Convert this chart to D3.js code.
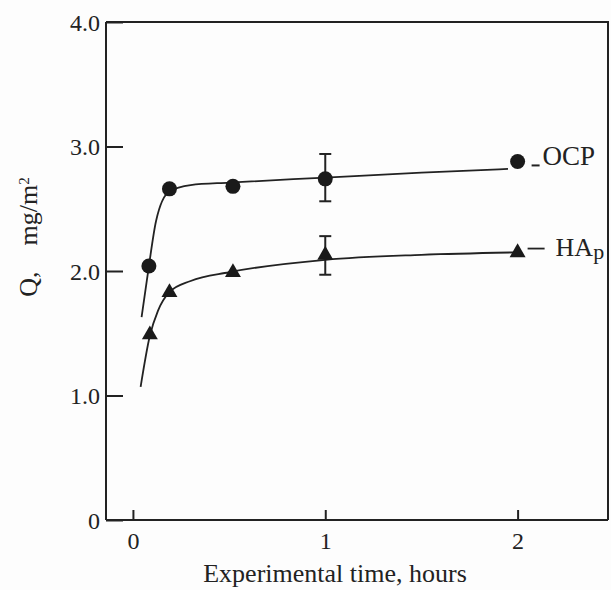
<!DOCTYPE html>
<html lang="en">
<head>
    <meta charset="UTF-8"/>
    <title>Adsorption Q vs time</title>
    <script src="https://d3js.org/d3.v7.min.js" charset="utf-8"></script>
    <style type="text/css">
        body { margin: 0; background: #fdfdfd; }
        text { font-family: "Liberation Serif", "DejaVu Serif", serif; fill: #222; }
        .axis path, .axis line { stroke: #222; stroke-width: 2px; }
        .fit { fill: none; stroke: #222; stroke-width: 1.8px; }
    </style>
</head>
<body>
<div id="chart"></div>
<script type="text/javascript">

    // measured points (hours, mg/m2)
    var ocpTime = [0.083, 0.19, 0.52, 1.0, 2.0];
    var ocpQ = [2.04, 2.66, 2.68, 2.74, 2.88];
    var hapTime = [0.088, 0.19, 0.52, 1.0, 2.0];
    var hapQ = [1.48, 1.82, 1.98, 2.12, 2.14];

    // error bars at 1 hour
    var errTime = [1.0, 1.0];
    var errLow = [2.56, 1.97];
    var errHigh = [2.94, 2.28];

    // hand drawn fitted curves
    var ocpCurveT = [0.045, 0.083, 0.12, 0.19, 0.3, 0.5, 1.0, 1.5, 1.95];
    var ocpCurveQ = [1.63, 2.04, 2.40, 2.64, 2.69, 2.71, 2.75, 2.79, 2.82];
    var hapCurveT = [0.04, 0.088, 0.13, 0.19, 0.3, 0.5, 1.0, 1.5, 2.0];
    var hapCurveQ = [1.07, 1.48, 1.68, 1.83, 1.92, 1.99, 2.09, 2.13, 2.15];

    var xTicks = [0, 1, 2];
    var yTicks = [0, 1, 2, 3, 4];
    var yTickLabels = ["0", "1.0", "2.0", "3.0", "4.0"];

    var W = 611, H = 590;
    var svg = d3.select("#chart").append("svg")
        .attr("width", W)
        .attr("height", H);

    var x = d3.scaleLinear().domain([-0.14, 2.47]).range([106, 608]);
    var y = d3.scaleLinear().domain([0, 4]).range([520, 22]);

    // frame top + right
    svg.append("path")
        .attr("d", "M" + x(-0.14) + "," + y(4) + "H" + x(2.47) + "V" + y(0))
        .attr("fill", "none")
        .attr("stroke", "#222")
        .attr("stroke-width", 2);

    var yAxis = svg.append("g")
        .attr("class", "axis")
        .attr("transform", "translate(" + x(-0.14) + ",0)")
        .call(d3.axisLeft(y).tickValues(yTicks)
            .tickFormat(function(d, i) { return yTickLabels[i]; })
            .tickSizeInner(-17).tickSizeOuter(0).tickPadding(6));
    yAxis.selectAll("text").attr("font-size", "24px").attr("dy", "0.34em");

    var xAxis = svg.append("g")
        .attr("class", "axis")
        .attr("transform", "translate(0," + y(0) + ")")
        .call(d3.axisBottom(x).tickValues(xTicks)
            .tickFormat(d3.format("d"))
            .tickSizeInner(-10).tickSizeOuter(0).tickPadding(12));
    xAxis.selectAll("text").attr("font-size", "24px");
    xAxis.select(".domain").attr("d", "M" + x(-0.14) + ",0H" + x(2.47));
    yAxis.select(".domain").attr("d", "M0," + y(0) + "V" + y(4));

    // axis titles
    svg.append("text")
        .attr("x", 335)
        .attr("y", 582)
        .attr("text-anchor", "middle")
        .attr("font-size", "26px")
        .text("Experimental time, hours");

    var yt = svg.append("text")
        .attr("transform", "translate(37,237) rotate(-90)")
        .attr("text-anchor", "middle")
        .attr("font-size", "26px")
        .attr("xml:space", "preserve");
    yt.append("tspan").text("Q,    mg/m");
    yt.append("tspan").attr("dy", "-0.55em").attr("font-size", "15px").text("2");

    // fitted curves
    var line = d3.line()
        .x(function(d) { return x(d[0]); })
        .y(function(d) { return y(d[1]); })
        .curve(d3.curveMonotoneX);

    svg.append("path").attr("class", "fit")
        .attr("d", line(d3.zip(ocpCurveT, ocpCurveQ)));
    svg.append("path").attr("class", "fit")
        .attr("d", line(d3.zip(hapCurveT, hapCurveQ)));

    // error bars
    errTime.forEach(function(t, i) {
        var g = svg.append("g").attr("stroke", "#222").attr("stroke-width", 2);
        g.append("line").attr("x1", x(t)).attr("x2", x(t))
            .attr("y1", y(errLow[i])).attr("y2", y(errHigh[i]));
        [errLow[i], errHigh[i]].forEach(function(v) {
            g.append("line").attr("x1", x(t) - 6).attr("x2", x(t) + 6)
                .attr("y1", y(v)).attr("y2", y(v));
        });
    });

    // markers
    svg.selectAll("circle.ocp")
        .data(d3.zip(ocpTime, ocpQ))
        .enter().append("circle")
        .attr("class", "ocp")
        .attr("cx", function(d) { return x(d[0]); })
        .attr("cy", function(d) { return y(d[1]); })
        .attr("r", 7.5)
        .attr("fill", "#1a1a1a");

    var tri = d3.symbol().type(d3.symbolTriangle).size(110);
    svg.selectAll("path.hap")
        .data(d3.zip(hapTime, hapQ))
        .enter().append("path")
        .attr("class", "hap")
        .attr("d", tri)
        .attr("transform", function(d) { return "translate(" + x(d[0]) + "," + (y(d[1]) - 1) + ")"; })
        .attr("fill", "#1a1a1a");

    // series labels
    var lastO = [x(ocpTime[4]), y(ocpQ[4])];
    svg.append("line")
        .attr("x1", lastO[0] + 14).attr("x2", lastO[0] + 22)
        .attr("y1", lastO[1] + 4).attr("y2", lastO[1] + 4)
        .attr("stroke", "#222").attr("stroke-width", 2);
    svg.append("text")
        .attr("x", lastO[0] + 25).attr("y", lastO[1] + 4)
        .attr("font-size", "27px")
        .text("OCP");

    var lastH = [x(hapTime[4]), y(hapQ[4])];
    svg.append("line")
        .attr("x1", lastH[0] + 10).attr("x2", lastH[0] + 27)
        .attr("y1", lastH[1] - 5).attr("y2", lastH[1] - 5)
        .attr("stroke", "#222").attr("stroke-width", 1.8);
    var ht = svg.append("text")
        .attr("x", lastH[0] + 38).attr("y", lastH[1] + 2)
        .attr("font-size", "26px");
    ht.append("tspan").text("HA");
    ht.append("tspan").attr("dy", "0.15em").attr("font-size", "22px").text("p");

</script>
</body>
</html>
